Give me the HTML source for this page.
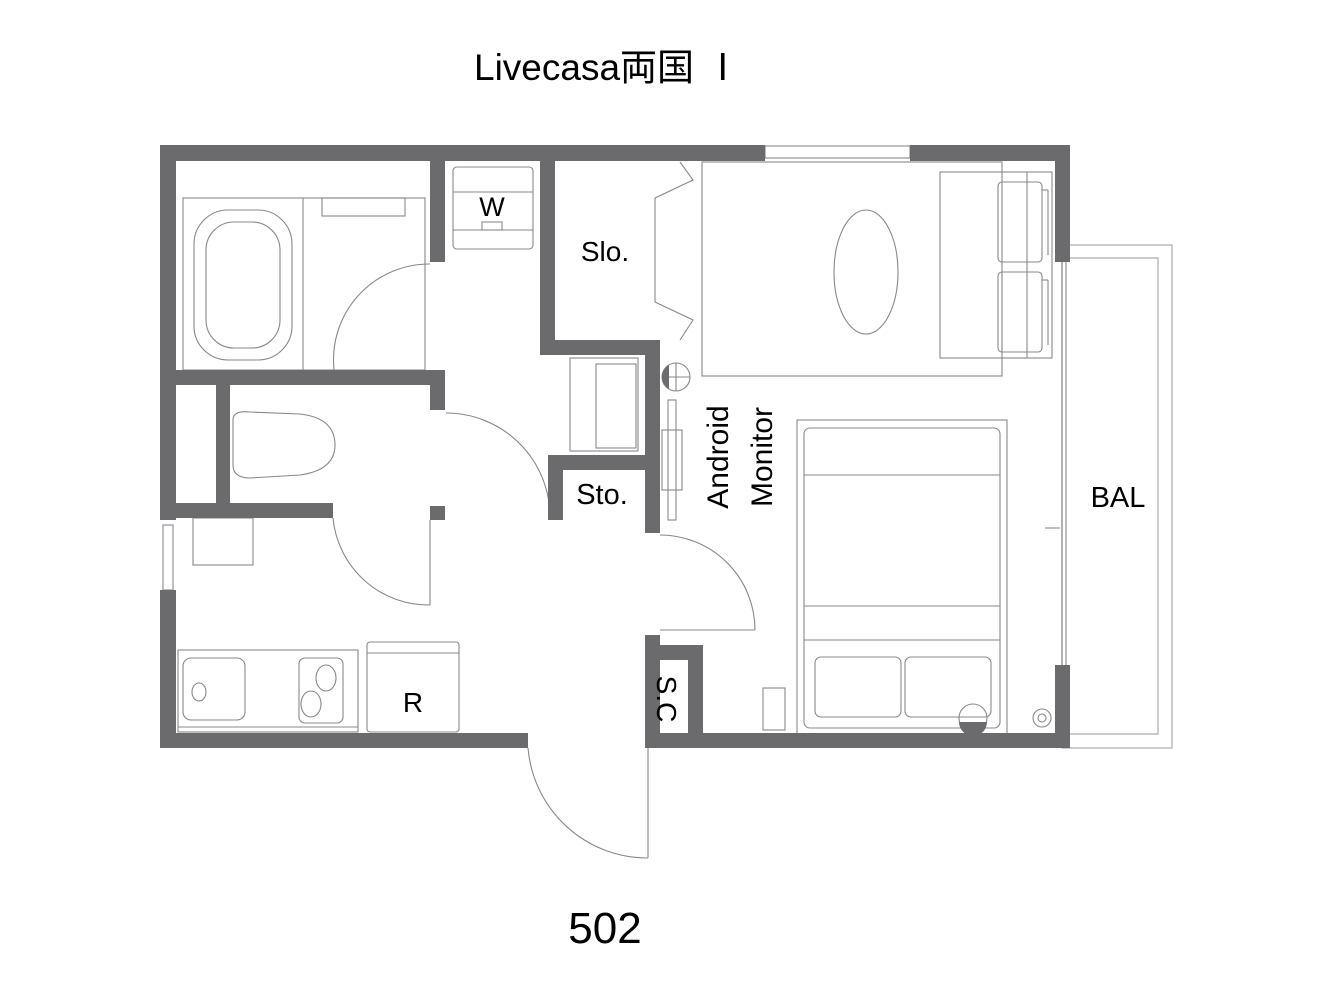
<!DOCTYPE html>
<html><head><meta charset="utf-8"><style>
html,body{margin:0;padding:0;background:#fff;}
svg{display:block}
text{font-family:"Liberation Sans","Noto Sans CJK JP",sans-serif;fill:#000}
</style></head><body>
<svg width="1333" height="1000" viewBox="0 0 1333 1000" xmlns="http://www.w3.org/2000/svg">
<text x="474" y="80" font-size="37">Livecasa両国 Ⅰ</text>
<text x="605" y="943" font-size="44" text-anchor="middle">502</text>

<!-- balcony -->
<g fill="none" stroke="#aaa" stroke-width="1.2">
<rect x="1062" y="245" width="110" height="503"/>
<rect x="1062" y="258" width="96" height="476"/>
</g>

<!-- fixtures -->
<g fill="none" stroke="#888" stroke-width="1.1">
<rect x="183" y="198" width="242" height="172"/>
<line x1="303" y1="198" x2="303" y2="370"/>
<rect x="322" y="198" width="83" height="18"/>
<rect x="194" y="210" width="98" height="150" rx="34"/>
<rect x="206" y="222" width="74" height="126" rx="28"/>
<path d="M334 370 A96 96 0 0 1 430 264"/>
<rect x="453" y="167" width="80" height="82" rx="4"/>
<line x1="453" y1="192" x2="533" y2="192"/>
<line x1="453" y1="230" x2="533" y2="230"/>
<rect x="482" y="222" width="20" height="8"/>
<path d="M233 420 Q233 410 250 412 L300 414 Q335 418 335 445 Q335 470 300 475 L250 478 Q233 478 233 465 Z"/>
<rect x="193" y="518" width="60" height="47"/>
<path d="M446 413 A104 104 0 0 1 550 517"/>
<path d="M333 518 A96 96 0 0 0 430 605"/>
<line x1="430" y1="520" x2="430" y2="605"/>
<polyline points="680,162 693,180 655,198 655,302 693,320 680,340"/>
<rect x="570" y="358" width="68" height="93"/>
<rect x="596" y="364" width="40" height="84"/>
<rect x="668" y="400" width="8" height="120"/>
<rect x="662" y="430" width="20" height="60"/>
<circle cx="676" cy="377" r="14"/>
<line x1="662" y1="377" x2="690" y2="377"/>
<line x1="676" y1="363" x2="676" y2="391"/>
<path d="M660 535 A95 95 0 0 1 755 630"/>
<line x1="755" y1="630" x2="660" y2="630"/>
<rect x="178" y="650" width="180" height="82"/>
<line x1="178" y1="727" x2="358" y2="727"/>
<rect x="183" y="658" width="62" height="62" rx="8"/>
<ellipse cx="199" cy="692" rx="7" ry="9"/>
<rect x="299" y="658" width="44" height="65" rx="6"/>
<ellipse cx="326" cy="678" rx="10" ry="13"/>
<ellipse cx="311" cy="704" rx="10" ry="13"/>
<rect x="367" y="642" width="92" height="90" rx="3"/>
<line x1="367" y1="653" x2="459" y2="653"/>
<path d="M528 748 A120 120 0 0 0 648 858"/>
<line x1="648" y1="748" x2="648" y2="858"/>
<rect x="702" y="162" width="300" height="214"/>
<rect x="940" y="172" width="112" height="186"/>
<line x1="1027" y1="172" x2="1027" y2="358"/>
<rect x="998" y="182" width="44" height="80" rx="4"/>
<rect x="998" y="272" width="44" height="80" rx="4"/>
<line x1="1042" y1="190" x2="1048" y2="190"/><line x1="1048" y1="190" x2="1048" y2="255"/>
<line x1="1042" y1="280" x2="1048" y2="280"/><line x1="1048" y1="280" x2="1048" y2="345"/>
<ellipse cx="866" cy="272" rx="32" ry="62"/>
<rect x="797" y="420" width="210" height="314"/>
<rect x="804" y="428" width="196" height="300" rx="6"/>
<line x1="804" y1="475" x2="1000" y2="475"/>
<line x1="804" y1="606" x2="1000" y2="606"/>
<line x1="804" y1="640" x2="1000" y2="640"/>
<rect x="815" y="657" width="86" height="60" rx="6"/>
<rect x="905" y="657" width="86" height="60" rx="6"/>
<rect x="763" y="688" width="22" height="42"/>
<circle cx="973" cy="718" r="14"/>
<circle cx="1042" cy="718" r="9"/>
<circle cx="1042" cy="718" r="4"/>
<rect x="765" y="146" width="145" height="12"/>
<rect x="163" y="525" width="10" height="65"/>
<line x1="1062" y1="262" x2="1062" y2="665"/>
<line x1="1066" y1="262" x2="1066" y2="665"/>
<line x1="1045" y1="528" x2="1060" y2="528"/>
</g>

<g fill="#6b6b6d">
<rect x="160" y="145" width="605" height="16"/>
<rect x="910" y="145" width="160" height="16"/>
<rect x="160" y="145" width="16" height="375"/>
<rect x="160" y="590" width="16" height="158"/>
<rect x="160" y="733" width="368" height="15"/>
<rect x="648" y="733" width="422" height="15"/>
<rect x="1055" y="145" width="15" height="117"/>
<rect x="1055" y="665" width="15" height="83"/>
<rect x="430" y="145" width="15" height="117"/>
<rect x="160" y="370" width="285" height="15"/>
<rect x="430" y="370" width="15" height="40"/>
<rect x="430" y="506" width="15" height="14"/>
<rect x="216" y="385" width="14" height="120"/>
<rect x="160" y="503" width="173" height="15"/>
<rect x="540" y="145" width="15" height="210"/>
<rect x="540" y="340" width="120" height="15"/>
<rect x="645" y="340" width="15" height="193"/>
<rect x="548" y="455" width="15" height="65"/>
<rect x="548" y="455" width="112" height="15"/>
<rect x="645" y="635" width="15" height="113"/>
<rect x="645" y="645" width="58" height="15"/>
<rect x="688" y="645" width="15" height="103"/>
<path d="M662 377 A14 14 0 0 1 669 365 L669 389 A14 14 0 0 1 662 377Z"/>
<path d="M959 722 L987 722 A14 14 0 0 1 959 722Z"/>
</g>

<text x="492" y="216" font-size="27" text-anchor="middle">W</text>
<text x="605" y="261" font-size="28" text-anchor="middle">Slo.</text>
<text x="602" y="504" font-size="29" text-anchor="middle">Sto.</text>
<text x="413" y="712" font-size="28" text-anchor="middle">R</text>
<text x="1118" y="507" font-size="29" text-anchor="middle">BAL</text>
<text transform="translate(728,457) rotate(-90)" font-size="30" text-anchor="middle">Android</text>
<text transform="translate(772,457) rotate(-90)" font-size="30" text-anchor="middle">Monitor</text>
<text transform="translate(657,699) rotate(90)" font-size="28" text-anchor="middle">S.C</text>
</svg>
</body></html>
